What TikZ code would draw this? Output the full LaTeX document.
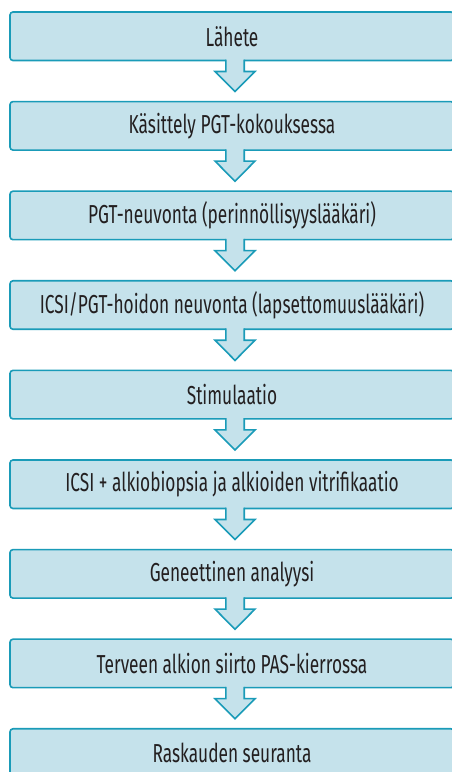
\documentclass[tikz,border=0pt]{standalone}
\usepackage{fontspec}
\setmainfont{Fira Sans}[FakeStretch=0.665]
\usetikzlibrary{calc}
\definecolor{boxfill}{HTML}{C5E2EB}
\definecolor{boxline}{HTML}{1A9BB8}
\definecolor{txt}{HTML}{231F20}
\newcommand\flowarrow[2]{%
  \fill[boxfill] ($(#1.south)+(-6.2,1.5)$) -- ($(#1.south)+(-6.2,-11)$) -- ($(#1.south)+(-17,-11)$)
     -- ($(#2.north)+(3,10)$) -- ($(#1.south)+(23,-11)$) -- ($(#1.south)+(12.2,-11)$) -- ($(#1.south)+(12.2,1.5)$) -- cycle;
  \draw[arrowline] ($(#1.south)+(-6.2,0.8)$) -- ($(#1.south)+(-6.2,-11)$) -- ($(#1.south)+(-17,-11)$)
     -- ($(#2.north)+(3,10)$) -- ($(#1.south)+(23,-11)$) -- ($(#1.south)+(12.2,-11)$) -- ($(#1.south)+(12.2,0.8)$);
}
\begin{document}
\begin{tikzpicture}[x=1pt,y=1pt,
  stepbox/.style={draw=boxline,fill=boxfill,line width=1.6pt,rounded corners=3pt,
    minimum width=444pt,minimum height=48.5pt,inner sep=0pt,outer sep=0pt,
    text=txt,font=\fontsize{26}{30}\selectfont},
  arrowline/.style={draw=boxline,line width=1.6pt,line join=miter}]
\useasboundingbox (0,0) rectangle (452,772);
\clip (0,0) rectangle (452,772);
\node[stepbox] (b1) at (232,735.75) {Lähete};
\node[stepbox] (b2) at (232,646.15) {Käsittely PGT-kokouksessa};
\node[stepbox] (b3) at (232,556.55) {PGT-neuvonta (perinnöllisyyslääkäri)};
\node[stepbox] (b4) at (232,466.95) {ICSI/PGT-hoidon neuvonta (lapsettomuuslääkäri)};
\node[stepbox] (b5) at (232,377.35) {Stimulaatio};
\node[stepbox] (b6) at (232,287.75) {ICSI + alkiobiopsia ja alkioiden vitrifikaatio};
\node[stepbox] (b7) at (232,198.15) {Geneettinen analyysi};
\node[stepbox] (b8) at (232,108.55) {Terveen alkion siirto PAS-kierrossa};
\node[stepbox] (b9) at (232,18.95) {Raskauden seuranta};
\flowarrow{b1}{b2}
\flowarrow{b2}{b3}
\flowarrow{b3}{b4}
\flowarrow{b4}{b5}
\flowarrow{b5}{b6}
\flowarrow{b6}{b7}
\flowarrow{b7}{b8}
\flowarrow{b8}{b9}
\end{tikzpicture}
\end{document}
